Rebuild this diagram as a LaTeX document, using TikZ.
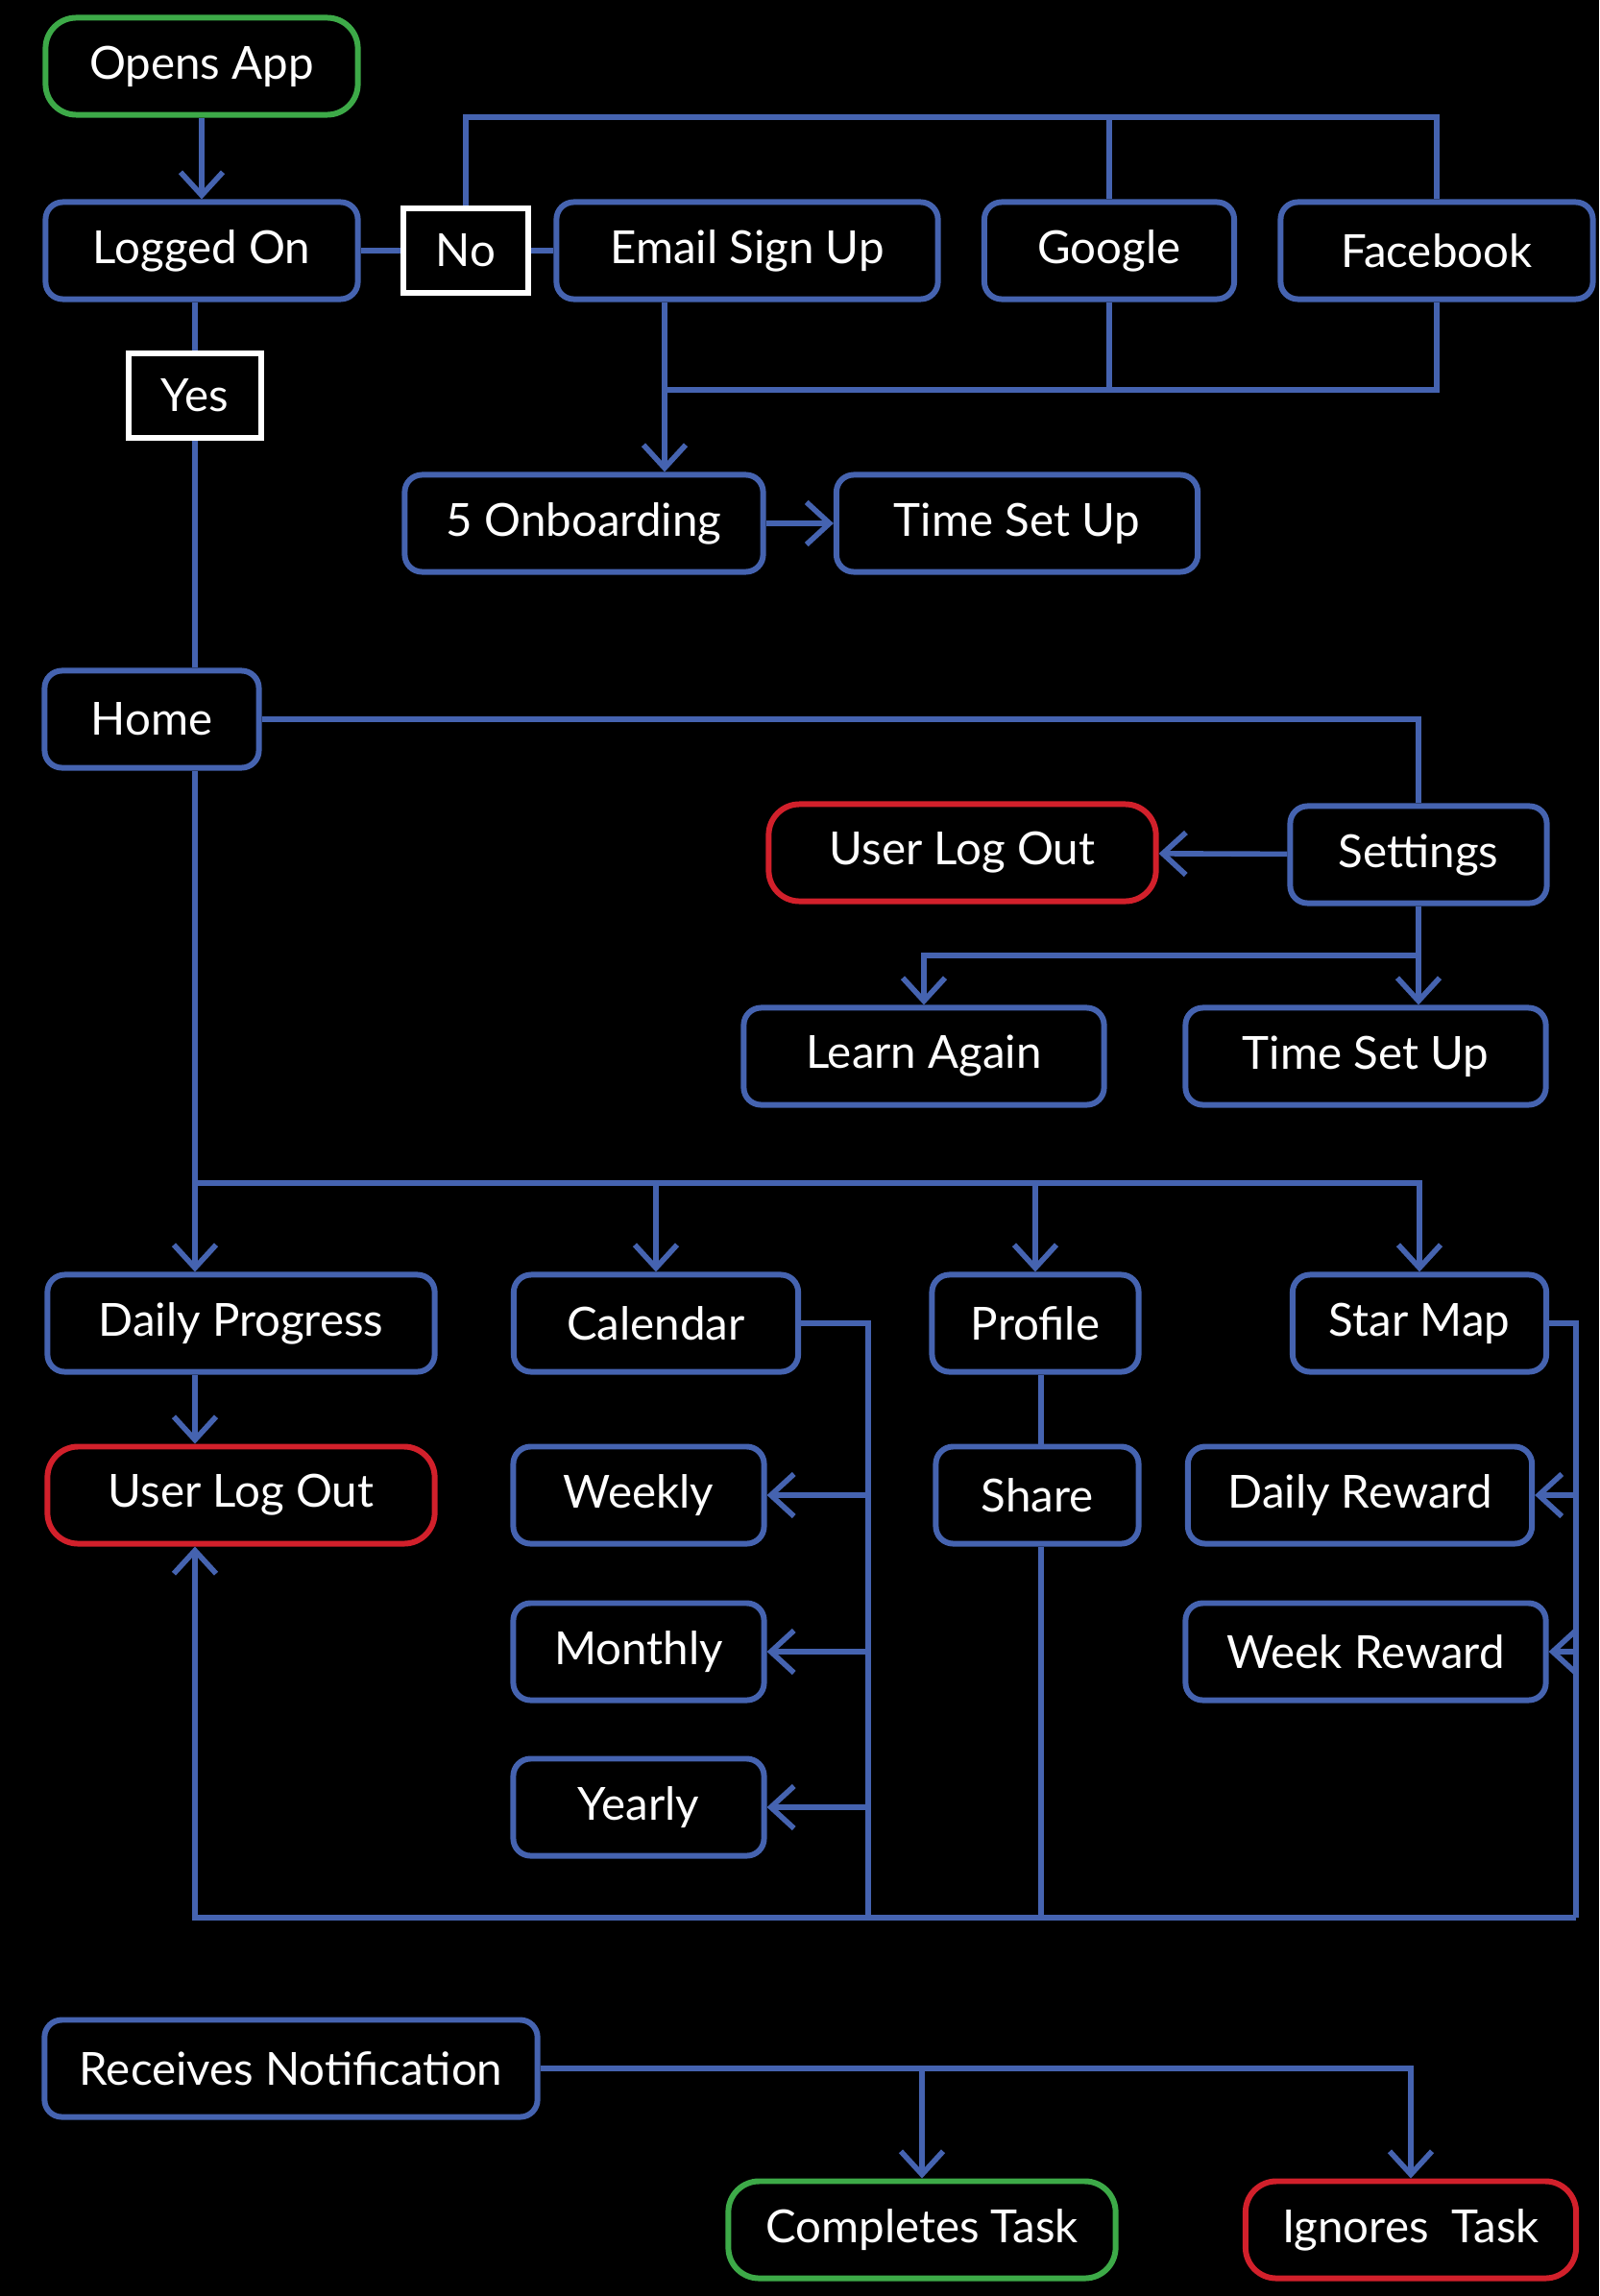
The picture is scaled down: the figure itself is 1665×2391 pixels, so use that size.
\documentclass[tikz,border=0pt]{standalone}
\usepackage{fontspec}
\setmainfont{Lato}
\usepackage{tikz}
\usetikzlibrary{calc,positioning,arrows.meta}

\definecolor{flowblue}{HTML}{4563B0}
\definecolor{flowgreen}{HTML}{3DAA48}
\definecolor{flowred}{HTML}{D2202B}

\tikzset{
  box/.style={draw=flowblue, line width=1.7pt, rounded corners=0.18cm, minimum height=1.01cm,
    text=white, font=\fontsize{13.5}{16}\selectfont, inner sep=0pt},
  startbox/.style={box, draw=flowgreen, rounded corners=0.32cm},
  stopbox/.style={box, draw=flowred, rounded corners=0.32cm},
  answer/.style={draw=white, line width=1.7pt, text=white, minimum height=0.88cm,
    font=\fontsize{13.5}{16}\selectfont, inner sep=0pt},
  link/.style={draw=flowblue, line width=1.6pt},
  arr/.style={link, -{Straight Barb[length=0.24cm,width=0.44cm]}}
}

\begin{document}
\begin{tikzpicture}[x=0.01cm, y=-0.01cm]

\fill[black] (0,0) rectangle (1665,2391);
\useasboundingbox (0,0) rectangle (1665,2391);

% sign in
\node[startbox, minimum width=3.25cm] (open) at (210,69) {Opens App};
\node[box, minimum width=3.25cm] (logged) at (210,261) {Logged On};
\node[answer, minimum width=1.29cm] (no) at (485,261) {No};
\node[box, minimum width=3.97cm] (email) at (778,261) {Email Sign Up};
\node[box, minimum width=2.60cm] (google) at (1155,261) {Google};
\node[box, minimum width=3.25cm] (facebook) at (1496,261) {Facebook};
\node[answer, minimum width=1.37cm] (yes) at (203,412) {Yes};
\node[box, minimum width=3.73cm] (onboard) at (608,545) {5 Onboarding};
\node[box, minimum width=3.76cm] (timeA) at (1059,545) {Time Set Up};

% home and settings
\node[box, minimum width=2.23cm] (home) at (158,749) {Home};
\node[box, minimum width=2.67cm] (settings) at (1477,890) {Settings};
\node[stopbox, minimum width=4.03cm] (logoutA) at (1002,888) {User Log Out};
\node[box, minimum width=3.75cm] (learn) at (962,1100) {Learn Again};
\node[box, minimum width=3.75cm] (timeB) at (1422,1100) {Time Set Up};

% main tabs
\node[box, minimum width=4.03cm] (daily) at (251,1378) {Daily Progress};
\node[box, minimum width=2.96cm] (calendar) at (683,1378) {Calendar};
\node[box, minimum width=2.15cm] (profile) at (1078,1378) {Profile};
\node[box, minimum width=2.64cm] (starmap) at (1478,1378) {Star Map};
\node[stopbox, minimum width=4.03cm] (logoutB) at (251,1557) {User Log Out};
\node[box, minimum width=2.61cm] (weekly) at (665,1557) {Weekly};
\node[box, minimum width=2.61cm] (monthly) at (665,1720) {Monthly};
\node[box, minimum width=2.61cm] (yearly) at (665,1882) {Yearly};
\node[box, minimum width=2.11cm] (share) at (1080,1557) {Share};
\node[box, minimum width=3.58cm] (dreward) at (1416,1557) {Daily Reward};
\node[box, minimum width=3.75cm] (wreward) at (1422,1720) {Week Reward};

% notification
\node[box, minimum width=5.13cm] (notify) at (303,2154) {Receives Notification};
\node[startbox, minimum width=4.03cm] (complete) at (960,2322) {Completes Task};
\node[stopbox, minimum width=3.44cm] (ignore) at (1469,2322) {Ignores\ \ Task};

\coordinate (top) at (485,122);
\coordinate (join) at (692,406);
\coordinate (bus) at (203,1232);
\coordinate (calbus) at (904,1997);
\coordinate (base) at (1641,1997);

\draw[arr] (open) -- (logged);
\draw[link] (logged) -- (no) -- (email);
\draw[link] (no.north) -- (top) -| (facebook.north);
\draw[link] (google.north) -- (google.north |- top);
\draw[link] (logged.south -| yes) -- (yes.north);
\draw[arr] (email.south -| join) -- (onboard.north -| join);
\draw[link] (join) -| (facebook.south);
\draw[link] (google.south) -- (google.south |- join);
\draw[arr] (onboard) -- (timeA);

\draw[link] (yes.south) -- (home.north -| yes);
\draw[link] (home.east) -| (settings.north);
\draw[arr] (settings) -- (logoutA);
\draw[arr] (settings.south) -- (settings.south |- timeB.north);
\draw[arr] ($(settings.south)!0.5!(settings.south |- timeB.north)$) -| (learn.north);

\draw[arr] (home.south -| yes) -- (daily.north -| yes);
\draw[arr] (bus) -| (starmap.north);
\draw[arr] (bus -| calendar) -- (calendar.north);
\draw[arr] (bus -| profile) -- (profile.north);
\draw[arr] (daily.south -| yes) -- (logoutB.north -| yes);

\draw[link] (calendar.east) -| (calbus);
\foreach \n in {weekly,monthly,yearly}
  \draw[arr] (\n.east -| calbus) -- (\n.east);
\draw[link] (profile.south -| 1084,0) -- (share.north -| 1084,0);
\draw[link] (share.south -| 1084,0) -- (1084,1997);
\draw[link] (starmap.east) -| (base);
\draw[arr] (dreward.east -| base) -- (dreward.east);
\draw[arr] (wreward.east -| base) -- (wreward.east);
\draw[arr] (base) -| (logoutB.south -| yes);

\draw[arr] (notify.east) -| (ignore.north);
\draw[arr] (notify.east -| complete) -- (complete.north);

\end{tikzpicture}
\end{document}
